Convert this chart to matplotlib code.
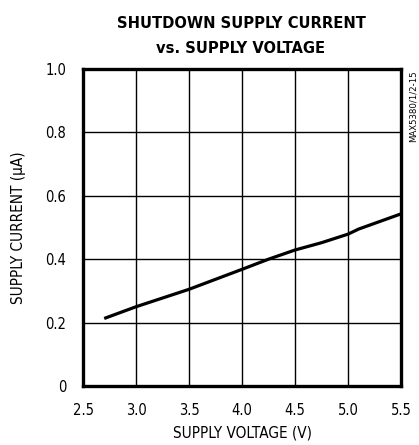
import matplotlib
matplotlib.use("Agg")
import matplotlib.pyplot as plt
import numpy as np

# data
volts = [2.7, 3.0, 3.5, 4.0, 4.25, 4.5, 4.75, 5.0, 5.1, 5.5]
current = [0.213, 0.250, 0.305, 0.368, 0.400, 0.429, 0.452, 0.479, 0.495, 0.543]

x_ticks = [2.5, 3.0, 3.5, 4.0, 4.5, 5.0, 5.5]
x_labels = ["2.5", "3.0", "3.5", "4.0", "4.5", "5.0", "5.5"]
y_ticks = [0, 0.2, 0.4, 0.6, 0.8, 1.0]
y_labels = ["0", "0.2", "0.4", "0.6", "0.8", "1.0"]

title1 = "SHUTDOWN SUPPLY CURRENT"
title2 = "vs. SUPPLY VOLTAGE"
xlabel = "SUPPLY VOLTAGE (V)"
ylabel = "SUPPLY CURRENT (\u03bcA)"
tag = "MAX5380/1/2-15"

plt.rcParams['font.family'] = ['DejaVu Sans']
plt.rcParams['font.stretch'] = 'condensed'

W, H = 419, 445
fig = plt.figure(figsize=(W/100, H/100), dpi=100)
ax = fig.add_axes([83/W, 1-386/H, (401-83)/W, (386-69)/H])

ax.plot(volts, current, color='black', lw=2.3, solid_capstyle='butt')
ax.set_xlim(2.5, 5.5)
ax.set_ylim(0, 1.0)
ax.set_xticks(x_ticks)
ax.set_xticklabels(x_labels)
ax.set_yticks(y_ticks)
ax.set_yticklabels(y_labels)
ax.grid(True, color='black', lw=1.0)
ax.tick_params(length=0, labelsize=10.5, pad=12)
for s in ax.spines.values():
    s.set_linewidth(2.4)

ax.set_xlabel(xlabel, fontsize=11, labelpad=6)
ax.set_ylabel(ylabel, fontsize=11)
ax.yaxis.set_label_coords(-0.18, 0.5)

fig.text(241/W, 1-28/H, title1, ha='center', va='baseline', fontsize=11.8,
         fontweight='bold')
fig.text(241/W, 1-53/H, title2, ha='center', va='baseline', fontsize=11.8,
         fontweight='bold')
fig.text(413/W, 1-70/H, tag, rotation=90, ha='center', va='top', fontsize=6.8)

fig.savefig("out.png", dpi=100)
